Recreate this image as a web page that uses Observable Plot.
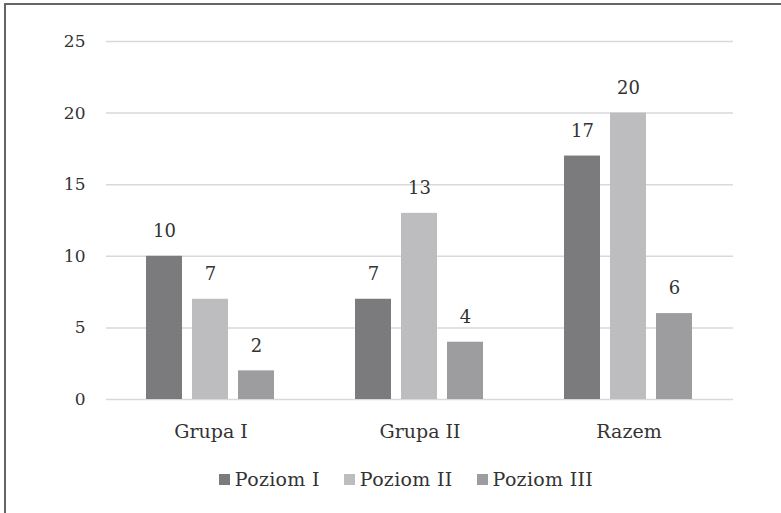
<!DOCTYPE html>
<html>
<head>
<meta charset="utf-8">
<script src="https://cdn.jsdelivr.net/npm/d3@7"></script>
<script src="https://cdn.jsdelivr.net/npm/@observablehq/plot@0.6"></script>
<style>
  html, body { margin: 0; padding: 0; background: #fff; }
  #frame { position: absolute; left: 4px; top: 3px; width: 777px; height: 510px;
           border-top: 2px solid #666; border-left: 2px solid #666; box-sizing: border-box; }
  #chart { position: absolute; left: 0; top: 0; }
  #legend { position: absolute; top: 468px; left: 0; width: 812px; text-align: center;
            font-family: "DejaVu Serif", serif; font-size: 19px; color: #333; letter-spacing: 0.3px; }
  #legend span.item { margin: 0 12px; white-space: nowrap; }
  #legend span.sw { display: inline-block; width: 11px; height: 11px; margin-right: 5px; vertical-align: 1px; }
</style>
</head>
<body>
<div id="frame"></div>
<div id="chart"></div>
<div id="legend"></div>
<script>
const groups = ["Grupa I", "Grupa II", "Razem"];
const levels = ["Poziom I", "Poziom II", "Poziom III"];
const poziomI = [10, 7, 17];
const poziomII = [7, 13, 20];
const poziomIII = [2, 4, 6];
const colors = ["#7b7b7e", "#bdbdc0", "#9d9da0"];
const yTicks = [0, 5, 10, 15, 20, 25];

const series = [poziomI, poziomII, poziomIII];
const data = [];
groups.forEach((g, gi) => levels.forEach((l, li) => data.push({group: g, level: l, value: series[li][gi]})));

const font = '"DejaVu Serif", serif';
const chart = Plot.plot({
  width: 781,
  height: 450,
  marginLeft: 105,
  marginRight: 48,
  marginTop: 41,
  marginBottom: 51,
  style: {fontFamily: font, fontSize: "15px", color: "#333", background: "transparent"},
  fx: {domain: groups, padding: 0, label: null, axis: null},
  x: {domain: levels, paddingInner: 0.213, paddingOuter: 0.83, axis: null},
  y: {domain: [0, 25], ticks: yTicks, label: null},
  color: {domain: levels, range: colors},
  marks: [
    Plot.gridY(yTicks, {stroke: "#d9d9d9", strokeOpacity: 1, strokeWidth: 1.5}),
    Plot.axisY(yTicks, {tickSize: 0, tickPadding: 21, fontSize: 17, fill: "#333", letterSpacing: 1}),
    Plot.axisFx({anchor: "bottom", tickSize: 0, tickPadding: 25, fontSize: 19, fill: "#333", label: null, letterSpacing: 0.4}),
    Plot.barY(data, {fx: "group", x: "level", y: "value", fill: "level"}),
    Plot.text(data, {fx: "group", x: "level", y: "value", text: d => String(d.value), dy: -25, fontSize: 18, fill: "#333", letterSpacing: 1})
  ]
});
document.getElementById("chart").appendChild(chart);

const legend = document.getElementById("legend");
levels.forEach((l, i) => {
  const item = document.createElement("span");
  item.className = "item";
  const sw = document.createElement("span");
  sw.className = "sw";
  sw.style.background = colors[i];
  item.appendChild(sw);
  item.appendChild(document.createTextNode(l));
  legend.appendChild(item);
});
</script>
</body>
</html>
